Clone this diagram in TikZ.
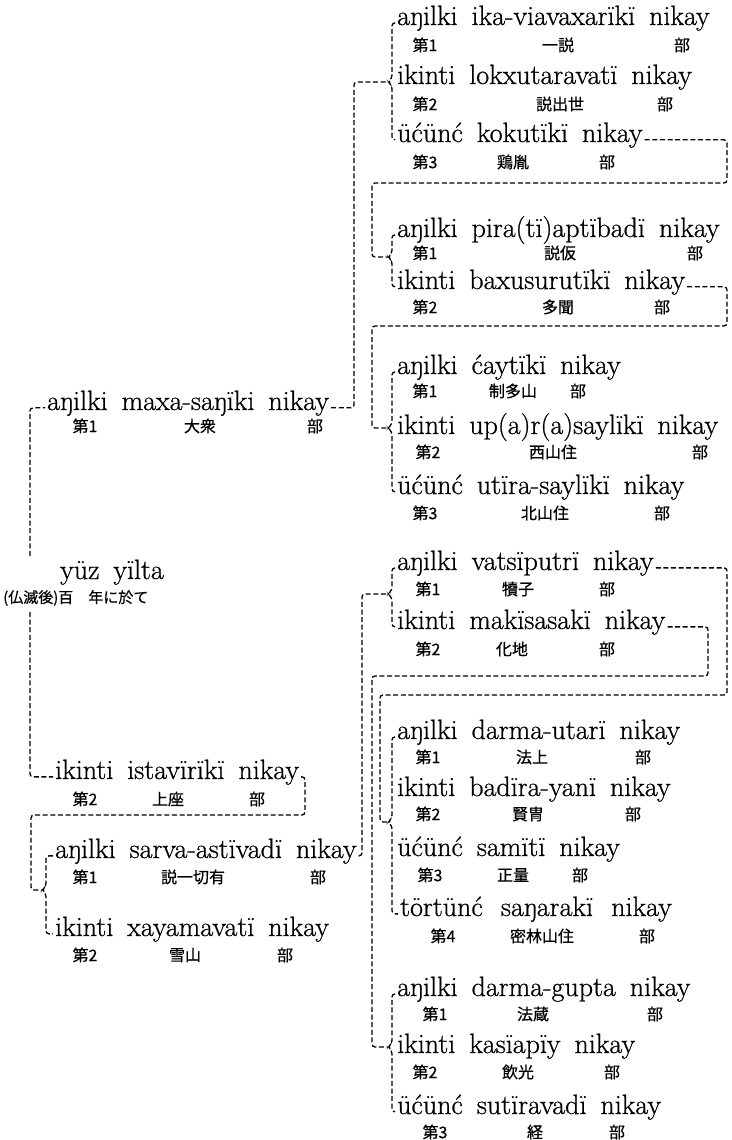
\documentclass[tikz,border=0pt]{standalone}
\usepackage{fontspec}
\setmainfont{Latin Modern Roman}[FakeBold=0.7]
\newfontfamily\cjk{Noto Sans CJK JP}[FakeBold=0.6]
\begin{document}
\begin{tikzpicture}[x=1pt,y=-1pt,
  main/.style={font={\fontsize{28}{30}\selectfont\spaceskip=0.5em\relax}, inner xsep=2pt, inner ysep=0pt, anchor=base west},
  sub/.style={font={\cjk\fontsize{16}{17}\selectfont}, inner sep=0pt, anchor=center},
  conn/.style={draw, line width=1.3pt, dash pattern=on 5pt off 2.6pt, rounded corners=3pt}]
\useasboundingbox (0,0) rectangle (731,1140);

% ---------- root ----------
\node[main] (root) at (58,579) {yüz yïlta};
\node[sub, anchor=west, font={\cjk\fontsize{15}{16}\selectfont}] (rootsub) at (3,598) {(仏滅後)百　年に於て};
\coordinate (rt) at (30,556);
\coordinate (rb) at (30,612);

% ---------- left column ----------
\node[main] (maxa) at (45,410) {aŋilki maxa-saŋïki nikay};
\node[sub] (maxa1) at (85,426) {第1};
\node[sub] (maxa2) at (200,426) {大衆};
\node[sub] (maxa3) at (315,426) {部};

\node[main] (ista) at (53,779) {ikinti istavïrïkï nikay};
\node[sub] (ista1) at (85,799) {第2};
\node[sub] (ista2) at (168,799) {上座};
\node[sub] (ista3) at (257,799) {部};

\node[main] (sarva) at (53,858) {aŋilki sarva-astïvadï nikay};
\node[sub] (sarva1) at (85,877) {第1};
\node[sub] (sarva2) at (193,877) {説一切有};
\node[sub] (sarva3) at (318,877) {部};

\node[main] (xaya) at (53,936) {ikinti xayamavatï nikay};
\node[sub] (xaya1) at (85,955) {第2};
\node[sub] (xaya2) at (185,955) {雪山};
\node[sub] (xaya3) at (285,955) {部};

% ---------- right column, upper ----------
\node[main] (n1) at (395,25) {aŋilki ika-viavaxarïkï nikay};
\node[sub] (n1a) at (425,45) {第1};
\node[sub] (n1b) at (558,45) {一説};
\node[sub] (n1c) at (682,45) {部};

\node[main] (n2) at (395,84) {ikinti lokxutaravatï nikay};
\node[sub] (n2a) at (425,104) {第2};
\node[sub] (n2b) at (560,104) {説出世};
\node[sub] (n2c) at (665,104) {部};

\node[main] (n3) at (395,142) {üćünć kokutïkï nikay};
\node[sub] (n3a) at (425,162) {第3};
\node[sub] (n3b) at (513,162) {鶏胤};
\node[sub] (n3c) at (607,162) {部};

\node[main] (n4) at (395,237) {aŋilki pira(tï)aptïbadï nikay};
\node[sub] (n4a) at (425,253) {第1};
\node[sub] (n4b) at (560,253) {説仮};
\node[sub] (n4c) at (695,253) {部};

\node[main] (n5) at (395,289) {ikinti baxusurutïkï nikay};
\node[sub] (n5a) at (425,307) {第2};
\node[sub] (n5b) at (558,307) {多聞};
\node[sub] (n5c) at (662,307) {部};

\node[main] (n6) at (395,374) {aŋilki ćaytïkï nikay};
\node[sub] (n6a) at (425,391) {第1};
\node[sub] (n6b) at (513,391) {制多山};
\node[sub] (n6c) at (578,391) {部};

\node[main] (n7) at (395,434) {ikinti up(a)r(a)saylïkï nikay};
\node[sub] (n7a) at (428,452) {第2};
\node[sub] (n7b) at (553,452) {西山住};
\node[sub] (n7c) at (700,452) {部};

\node[main] (n8) at (395,494) {üćünć utïra-saylïkï nikay};
\node[sub] (n8a) at (425,513) {第3};
\node[sub] (n8b) at (545,513) {北山住};
\node[sub] (n8c) at (662,513) {部};

% ---------- right column, lower ----------
\node[main] (vats) at (395,570) {aŋilki vatsïputrï nikay};
\node[sub] (vats1) at (428,589) {第1};
\node[sub] (vats2) at (518,589) {犢子};
\node[sub] (vats3) at (607,589) {部};

\node[main] (maki) at (395,629) {ikinti makïsasakï nikay};
\node[sub] (maki1) at (428,649) {第2};
\node[sub] (maki2) at (512,649) {化地};
\node[sub] (maki3) at (607,649) {部};

\node[main] (dut) at (395,739) {aŋilki darma-utarï nikay};
\node[sub] (dut1) at (428,757) {第1};
\node[sub] (dut2) at (532,757) {法上};
\node[sub] (dut3) at (643,757) {部};

\node[main] (bad) at (395,796) {ikinti badïra-yanï nikay};
\node[sub] (bad1) at (428,814) {第2};
\node[sub] (bad2) at (528,814) {賢冑};
\node[sub] (bad3) at (633,814) {部};

\node[main] (sam) at (395,856) {üćünć samïtï nikay};
\node[sub] (sam1) at (430,875) {第3};
\node[sub] (sam2) at (513,875) {正量};
\node[sub] (sam3) at (580,875) {部};

\node[main] (tor) at (398,916) {\spaceskip=0.65em\relax törtünć saŋarakï nikay};
\node[sub] (tor1) at (443,936) {第4};
\node[sub] (tor2) at (542,936) {密林山住};
\node[sub] (tor3) at (647,936) {部};

\node[main] (dg) at (395,996) {aŋilki darma-gupta nikay};
\node[sub] (dg1) at (435,1014) {第1};
\node[sub] (dg2) at (533,1014) {法蔵};
\node[sub] (dg3) at (655,1014) {部};

\node[main] (kas) at (395,1053) {ikinti kasïapïy nikay};
\node[sub] (kas1) at (425,1072) {第2};
\node[sub] (kas2) at (518,1072) {飲光};
\node[sub] (kas3) at (612,1072) {部};

\node[main] (sut) at (395,1114) {üćünć sutïravadï nikay};
\node[sub] (sut1) at (435,1132) {第3};
\node[sub] (sut2) at (535,1132) {経};
\node[sub] (sut3) at (617,1132) {部};

% ---------- bracket tips ----------
\coordinate (b1) at (388,82);
\coordinate (b2) at (388,257);
\coordinate (b3) at (388,428);
\coordinate (b4) at (388,594);
\coordinate (b5) at (388,822);
\coordinate (b6) at (388,1047);
\coordinate (b7) at (42,890);

% ---------- connectors ----------
\draw[conn] (rt) |- (maxa.mid west);
\draw[conn] (rb) |- (ista.mid west);
\draw[conn] (maxa.mid east) -| ([xshift=-34pt]b1) -- (b1);
\draw[conn] (n3.mid east) -| (727,183) -| ([xshift=-16pt]b2) -- (b2);
\draw[conn] (n5.mid east) -| (727,326) -| ([xshift=-16pt]b3) -- (b3);
\draw[conn] (sarva.mid east) -| ([xshift=-26pt]b4) -- (b4);
\draw[conn] (vats.mid east) -| (727,695) -| ([xshift=-8pt]b5) -- (b5);
\draw[conn] (maki.mid east) -| (708,676) -| ([xshift=-16pt]b6) -- (b6);
\draw[conn] (ista.mid east) -| (305,815) -| ([xshift=-11pt]b7) -- (b7);

% ---------- brackets ----------
\draw[conn] (n1.mid west) -| (392,78) -- (b1) -- (392,86) |- (n3.mid west);
\draw[conn] (n4.mid west) -| (392,253) -- (b2) -- (392,261) |- (n5.mid west);
\draw[conn] (n6.mid west) -| (392,424) -- (b3) -- (392,432) |- (n8.mid west);
\draw[conn] (vats.mid west) -| (392,590) -- (b4) -- (392,598) |- (maki.mid west);
\draw[conn] (dut.mid west) -| (392,818) -- (b5) -- (392,826) |- (tor.mid west);
\draw[conn] (dg.mid west) -| (392,1043) -- (b6) -- (392,1051) |- (sut.mid west);
\draw[conn] (sarva.mid west) -| (46,886) -- (b7) -- (46,894) |- (xaya.mid west);
\end{tikzpicture}
\end{document}
